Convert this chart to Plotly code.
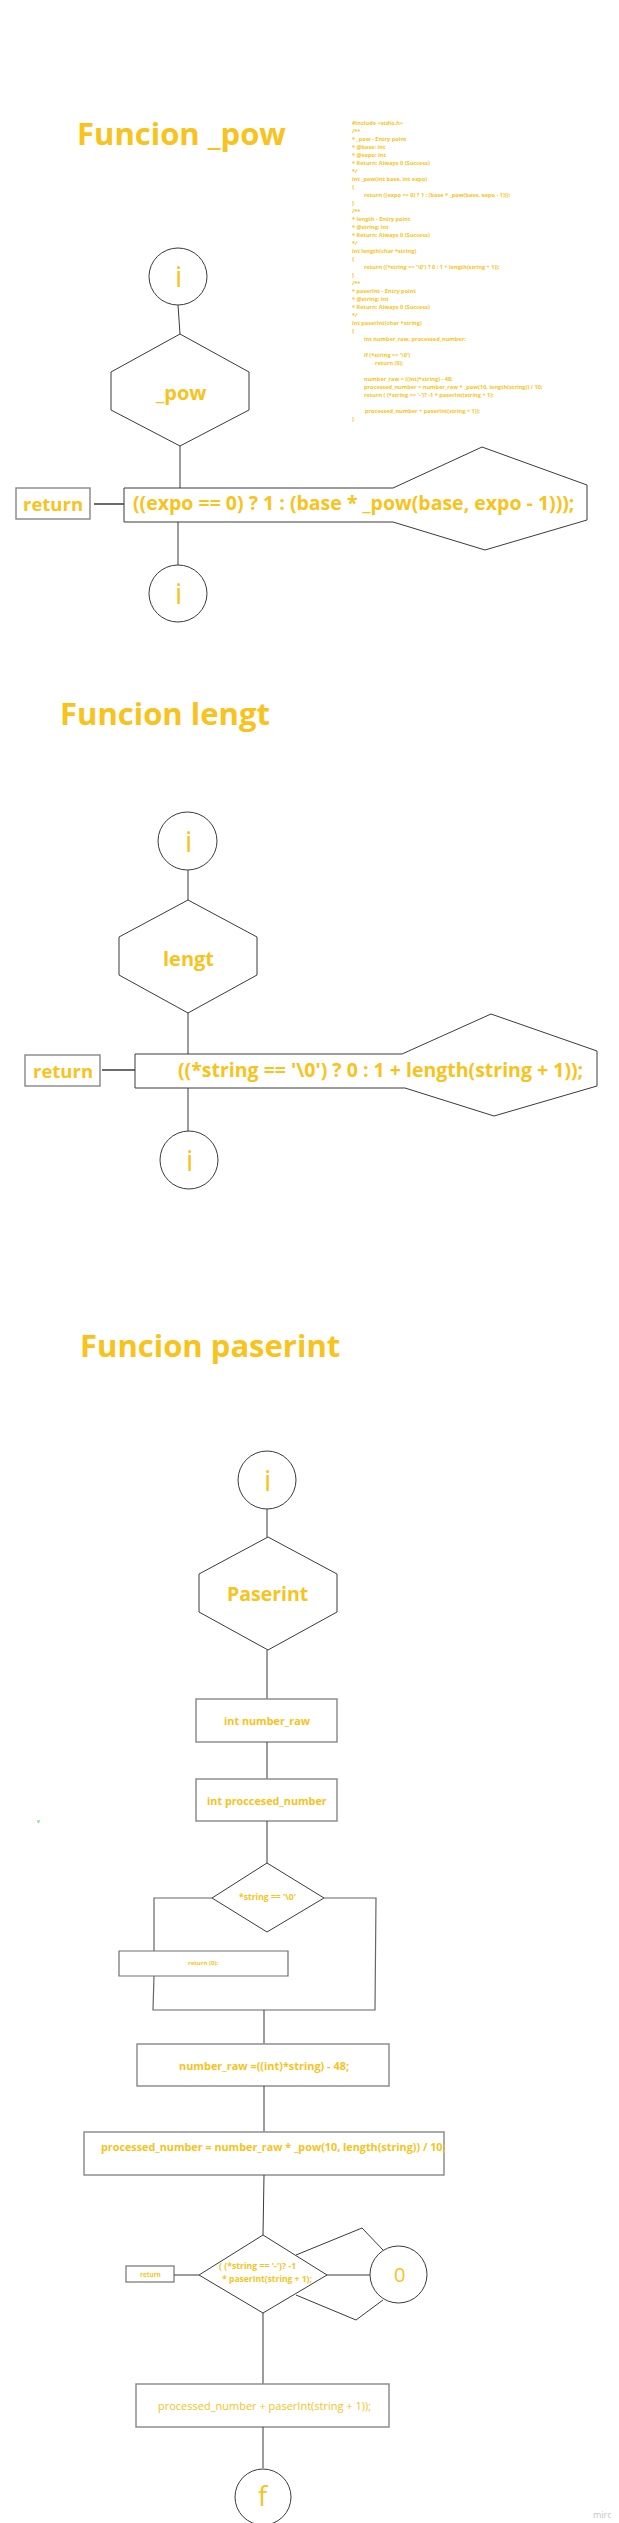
import plotly.graph_objects as go

YELLOW = "#F7C31C"
DARK = "#3a3a3a"
GREY = "#8e8e8e"
FONT = "Open Sans, Noto Sans, sans-serif"

# headings and node labels
titles = ["Funcion _pow", "Funcion lengt", "Funcion paserint"]
hex_labels = ["_pow", "lengt", "Paserint"]
terminal_labels = ["i", "i", "i", "i", "i", "f"]
return_label = "return"
return_exprs = ["((expo == 0) ? 1 : (base * _pow(base, expo - 1)));",
                "((*string == '\\0') ? 0 : 1 + length(string + 1));"]
paserint_steps = ["int number_raw",
                  "int proccesed_number",
                  "number_raw =((int)*string) - 48;",
                  "processed_number = number_raw * _pow(10, length(string)) / 10;",
                  "processed_number + paserInt(string + 1));"]
cond_empty = "*string == '\\0'"
cond_empty_return = "return (0);"
cond_sign = ["( (*string == '-')? -1", " * paserInt(string + 1);"]
loop_label = "0"

# source listing printed next to the first diagram
code_lines = [
    "#include <stdio.h>", "/**", "* _pow - Entry point", "* @base: int",
    "* @expo: int", "* Return: Always 0 (Success)", "*/",
    "int _pow(int base, int expo)", "{",
    "return ((expo == 0) ? 1 : (base * _pow(base, expo - 1)));", "}",
    "/**", "* length - Entry point", "* @string: int",
    "* Return: Always 0 (Success)", "*/", "int length(char *string)", "{",
    "return ((*string == '\\0') ? 0 : 1 + length(string + 1));", "}",
    "/**", "* paserInt - Entry point", "* @string: int",
    "* Return: Always 0 (Success)", "*/", "int paserInt(char *string)", "{",
    "int number_raw, processed_number;", "",
    "if (*string == '\\0')", "return (0);", "",
    "number_raw = ((int)*string) - 48;",
    "processed_number = number_raw * _pow(10, length(string)) / 10;",
    "return ( (*string == '-')? -1 * paserInt(string + 1);", "",
    "processed_number + paserInt(string + 1));", "}",
]
code_indent = [0, 0, 0, 0, 0, 0, 0, 0, 0, 1, 0, 0, 0, 0, 0, 0, 0, 0, 1, 0,
               0, 0, 0, 0, 0, 0, 0, 1, 0, 1, 2, 0, 1, 1, 1, 0, 1.1, 0]

shapes = []
annotations = []


def path(points, color=DARK, width=1, closed=False):
    d = "M " + " L ".join(f"{x},{y}" for x, y in points)
    if closed:
        d += " Z"
    shapes.append(dict(type="path", path=d, xref="x", yref="y",
                       line=dict(color=color, width=width)))


def oval(x0, y0, x1, y1):
    shapes.append(dict(type="circle", x0=x0, y0=y0, x1=x1, y1=y1,
                       xref="x", yref="y", line=dict(color=DARK, width=1)))


def box(x0, y0, x1, y1, color=GREY, width=1.5):
    shapes.append(dict(type="rect", x0=x0, y0=y0, x1=x1, y1=y1,
                       xref="x", yref="y", line=dict(color=color, width=width)))


def label(x, y, s, size, bold=True, anchor="center", color=YELLOW):
    annotations.append(dict(x=x, y=y, text=s, xref="x", yref="y",
                            showarrow=False, xanchor=anchor, yanchor="middle",
                            font=dict(family=FONT, size=size, color=color,
                                      weight="bold" if bold else "normal")))


def hexagon(cx, top, bottom, half, y_up, y_low):
    path([(cx, top), (cx + half, y_up), (cx + half, y_low), (cx, bottom),
          (cx - half, y_low), (cx - half, y_up)], closed=True)


# ---------- Funcion _pow ----------
label(67, 125, titles[0], 31, anchor="left")
oval(141, 240, 199, 297)
label(170, 267, terminal_labels[0], 29, bold=False)
path([(170, 297), (172, 326)])
hexagon(172, 326, 438, 69, 364, 402)
label(172, 384, hex_labels[0], 20)
path([(172, 438), (172, 480)])
box(8, 480, 82, 511)
label(45, 495, return_label, 18.5)
path([(86, 496), (116, 496)], width=1.5)
path([(116, 480), (385, 480), (474, 439), (579, 477), (579, 512),
      (477, 542), (385, 514), (116, 514)], closed=True)
label(123, 494, return_exprs[0], 19.5, anchor="left")
path([(170, 514), (170, 557)])
oval(141, 557, 199, 614)
label(170, 584, terminal_labels[1], 29, bold=False)

# listing
for i, (line, ind) in enumerate(zip(code_lines, code_indent)):
    if line:
        label(342 + ind * 11.5, 115 + i * 8, line, 5.6, anchor="left")

# ---------- Funcion lengt ----------
label(50, 705, titles[1], 31, anchor="left")
oval(150, 804, 209, 862)
label(180, 832, terminal_labels[2], 29, bold=False)
path([(180, 862), (180, 892)])
hexagon(180, 892, 1005, 69, 929, 967)
label(180, 950, hex_labels[1], 20)
path([(180, 1005), (180, 1046)])
box(17, 1047, 92, 1078)
label(54.5, 1062, return_label, 18.5)
path([(94, 1062), (127, 1062)], width=1.5)
path([(127, 1046), (394, 1046), (483, 1006), (589, 1043), (589, 1078),
      (486, 1108), (397, 1080), (127, 1080)], closed=True)
label(168, 1061, return_exprs[1], 19.5, anchor="left")
path([(180, 1080), (180, 1123)])
oval(152, 1123, 210, 1181)
label(181, 1151, terminal_labels[3], 29, bold=False)

# ---------- Funcion paserint ----------
label(70, 1337, titles[2], 31, anchor="left")
oval(230, 1443, 288, 1501)
label(259, 1471, terminal_labels[4], 29, bold=False)
path([(259, 1501), (259, 1529)])
hexagon(260, 1529, 1642, 69, 1566, 1604)
label(259, 1585, hex_labels[2], 19.5)
path([(259, 1642), (259, 1691)])
box(188, 1691, 329, 1734)
label(259, 1712, paserint_steps[0], 10.8)
path([(259, 1734), (259, 1771)])
box(188, 1771, 329, 1813)
label(259, 1792, paserint_steps[1], 10.8)
label(30, 1813, "v", 5, color="#7cc46a")
path([(259, 1813), (259, 1855)])

# first condition
path([(259, 1855), (316, 1890), (259, 1924), (204, 1890)], closed=True)
label(259, 1889, cond_empty, 8.6)
path([(204, 1890), (146, 1890), (146, 1943)], color="#666666", width=1.2)
path([(146, 1968), (145, 2002), (367, 2002), (368, 1890), (316, 1890)],
     color="#666666", width=1.2)
box(111, 1943, 280, 1968, color="#6e6e6e", width=1.2)
label(195, 1955, cond_empty_return, 6)
path([(256, 2002), (256, 2036)])
box(129, 2036, 381, 2078)
label(256, 2057, paserint_steps[2], 10.9)
path([(256, 2078), (256, 2124)])
box(76, 2124, 436, 2167)
label(91, 2138, paserint_steps[3], 10.8, anchor="left")
path([(256, 2167), (255, 2227)])

# sign condition with recursion loop
path([(255, 2227), (319, 2267), (255, 2305), (191, 2267)], closed=True)
label(249, 2258, cond_sign[0], 8.7)
label(258, 2270, cond_sign[1], 8.5)
box(118, 2258, 166, 2274)
label(142, 2266, return_label, 6.4)
path([(166, 2267), (191, 2267)])
path([(319, 2267), (362, 2267)])
oval(362, 2238, 419, 2295)
label(391, 2266, loop_label, 20, bold=False)
path([(288, 2247), (354, 2220), (375, 2242)])
path([(288, 2287), (348, 2312), (375, 2292)])
path([(255, 2305), (255, 2376)])
box(128, 2376, 381, 2419)
label(256, 2397, paserint_steps[4], 11, bold=False)
path([(255, 2419), (255, 2460)])
oval(227, 2461, 283, 2517)
label(255, 2487, terminal_labels[5], 27, bold=False)

label(595, 2506, "miro", 9, bold=False, color="#c4c4c4")

fig = go.Figure(go.Scatter(x=[], y=[]))
fig.update_layout(
    width=619, height=2523,
    margin=dict(l=0, r=0, t=0, b=0),
    paper_bgcolor="white", plot_bgcolor="white",
    showlegend=False,
    shapes=shapes, annotations=annotations,
)
fig.update_xaxes(range=[0, 619], visible=False, fixedrange=True)
fig.update_yaxes(range=[2523, 0], visible=False, fixedrange=True)
fig.write_html("out.html", config=dict(displayModeBar=False))
